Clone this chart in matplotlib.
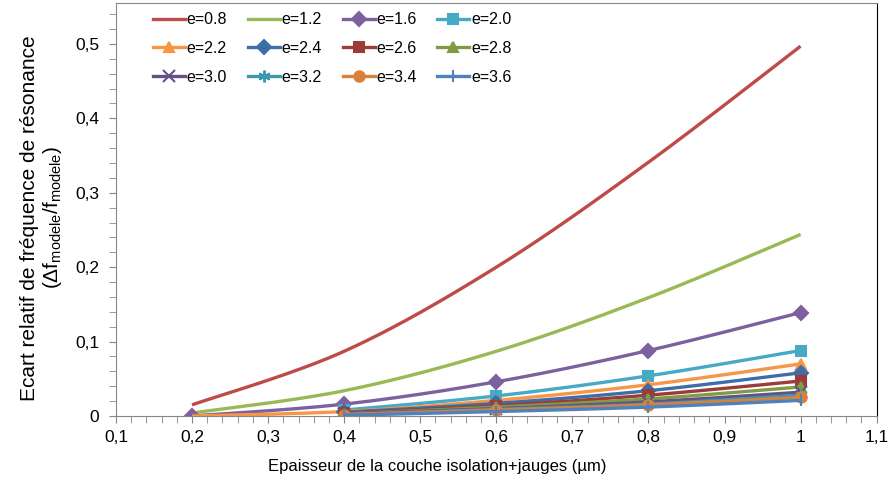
import matplotlib
matplotlib.use("Agg")
import matplotlib.pyplot as plt
import numpy as np
from matplotlib.ticker import MultipleLocator, FuncFormatter

plt.rcParams["font.family"] = "Liberation Sans"
plt.rcParams["mathtext.fontset"] = "custom"
plt.rcParams["mathtext.rm"] = "Liberation Sans"
plt.rcParams["mathtext.it"] = "Liberation Sans:italic"

# thickness of insulation + gauges layer (um)
x_full = [0.2, 0.4, 0.6, 0.8, 1.0]
x_part = [0.4, 0.6, 0.8, 1.0]

labels = ["e=0.8", "e=1.2", "e=1.6", "e=2.0", "e=2.2", "e=2.4",
          "e=2.6", "e=2.8", "e=3.0", "e=3.2", "e=3.4", "e=3.6"]

e08 = [0.015, 0.087, 0.200, 0.341, 0.497]
e12 = [0.004, 0.034, 0.087, 0.159, 0.244]
e16 = [0.000, 0.016, 0.046, 0.088, 0.139]
e20 = [0.008, 0.027, 0.054, 0.088]
e22 = [0.000, 0.006, 0.021, 0.042, 0.070]
e24 = [0.005, 0.017, 0.034, 0.058]
e26 = [0.004, 0.014, 0.028, 0.047]
e28 = [0.003, 0.012, 0.023, 0.039]
e30 = [0.003, 0.010, 0.019, 0.032]
e32 = [0.002, 0.009, 0.016, 0.028]
e34 = [0.002, 0.008, 0.015, 0.025]
e36 = [0.001, 0.006, 0.012, 0.021]

series = [
    (x_full, e08, "#BE4B48", None),
    (x_full, e12, "#98B954", None),
    (x_full, e16, "#7D60A0", "D"),
    (x_part, e20, "#46AAC5", "s"),
    (x_full, e22, "#F79646", "^"),
    (x_part, e24, "#3E6EA8", "D"),
    (x_part, e26, "#9B3C39", "s"),
    (x_part, e28, "#7F9C44", "^"),
    (x_part, e30, "#674F88", "x"),
    (x_part, e32, "#3B99B2", (6, 2, 0)),
    (x_part, e34, "#DA8137", "o"),
    (x_part, e36, "#4F81BD", "|"),
]


def smooth(xs, ys, n=40):
    # Excel-like smoothed line (Bezier through points, Catmull-Rom controls)
    p = np.column_stack([xs, ys]).astype(float)
    out = [p[0]]
    t = np.linspace(0, 1, n)[1:, None]
    for i in range(len(p) - 1):
        p0 = p[i - 1] if i > 0 else p[i]
        p3 = p[i + 2] if i + 2 < len(p) else p[i + 1]
        c1 = p[i] + (p[i + 1] - p0) / 6
        c2 = p[i + 1] - (p3 - p[i]) / 6
        seg = ((1 - t) ** 3 * p[i] + 3 * (1 - t) ** 2 * t * c1
               + 3 * (1 - t) * t ** 2 * c2 + t ** 3 * p[i + 1])
        out.extend(seg)
    out = np.array(out)
    return out[:, 0], out[:, 1]


fig = plt.figure(figsize=(8.9, 4.79), dpi=100)
ax = fig.add_axes([0.1303, 0.1315, 0.8547, 0.8622])

handles = []
for (xs, ys, c, m), lab in zip(series, labels):
    sx, sy = smooth(xs, ys)
    ax.plot(sx, sy, color=c, lw=2.4, solid_capstyle="butt")
    mx = xs if lab != "e=2.2" else xs[1:]
    my = ys if lab != "e=2.2" else ys[1:]
    ms = 7.5 if m in ("D", "s", "^", "o") else 8.5
    if m is not None:
        ax.plot(mx, my, ls="none", marker=m, color=c, ms=ms, mew=1.5)
    h, = ax.plot([], [], color=c, lw=2.4, marker=m, ms=ms, mew=1.5)
    handles.append(h)

ax.set_xlim(0.1, 1.1)
ax.set_ylim(0, 0.555)
ax.xaxis.set_major_locator(MultipleLocator(0.1))
ax.xaxis.set_minor_locator(MultipleLocator(0.02))
ax.yaxis.set_major_locator(MultipleLocator(0.1))
ax.yaxis.set_minor_locator(MultipleLocator(0.02))
fmt = FuncFormatter(lambda v, p: ("%g" % round(v, 2)).replace(".", ","))
ax.xaxis.set_major_formatter(fmt)
ax.yaxis.set_major_formatter(fmt)
ax.tick_params(which="both", direction="out", color="#868686", labelsize=12.5,
               length=5)
ax.tick_params(axis="y", which="major", pad=7)
ax.tick_params(axis="x", which="major", pad=5)
for s in ax.spines.values():
    s.set_color("#868686")
ax.spines["right"].set_color("black")

ax.set_xlabel("Epaisseur de la couche isolation+jauges (µm)", fontsize=12,
              labelpad=10)
ax.xaxis.label.set_x(0.423)
ax.set_ylabel("Ecart relatif de fréquence de résonance\n"
              r"($\Delta$f$_{\mathrm{modele}}$/f$_{\mathrm{modele}}$)",
              fontsize=15, linespacing=1.15, labelpad=8)
ax.yaxis.label.set_y(0.48)

order = [0, 4, 8, 1, 5, 9, 2, 6, 10, 3, 7, 11]
ax.legend([handles[i] for i in order], [labels[i] for i in order],
          ncol=4, loc="upper left", bbox_to_anchor=(0.03, 1.012),
          frameon=False, fontsize=11.5, handlelength=2.0, handletextpad=0.1,
          columnspacing=1.3, labelspacing=0.85)

fig.savefig("out.png", dpi=100)
